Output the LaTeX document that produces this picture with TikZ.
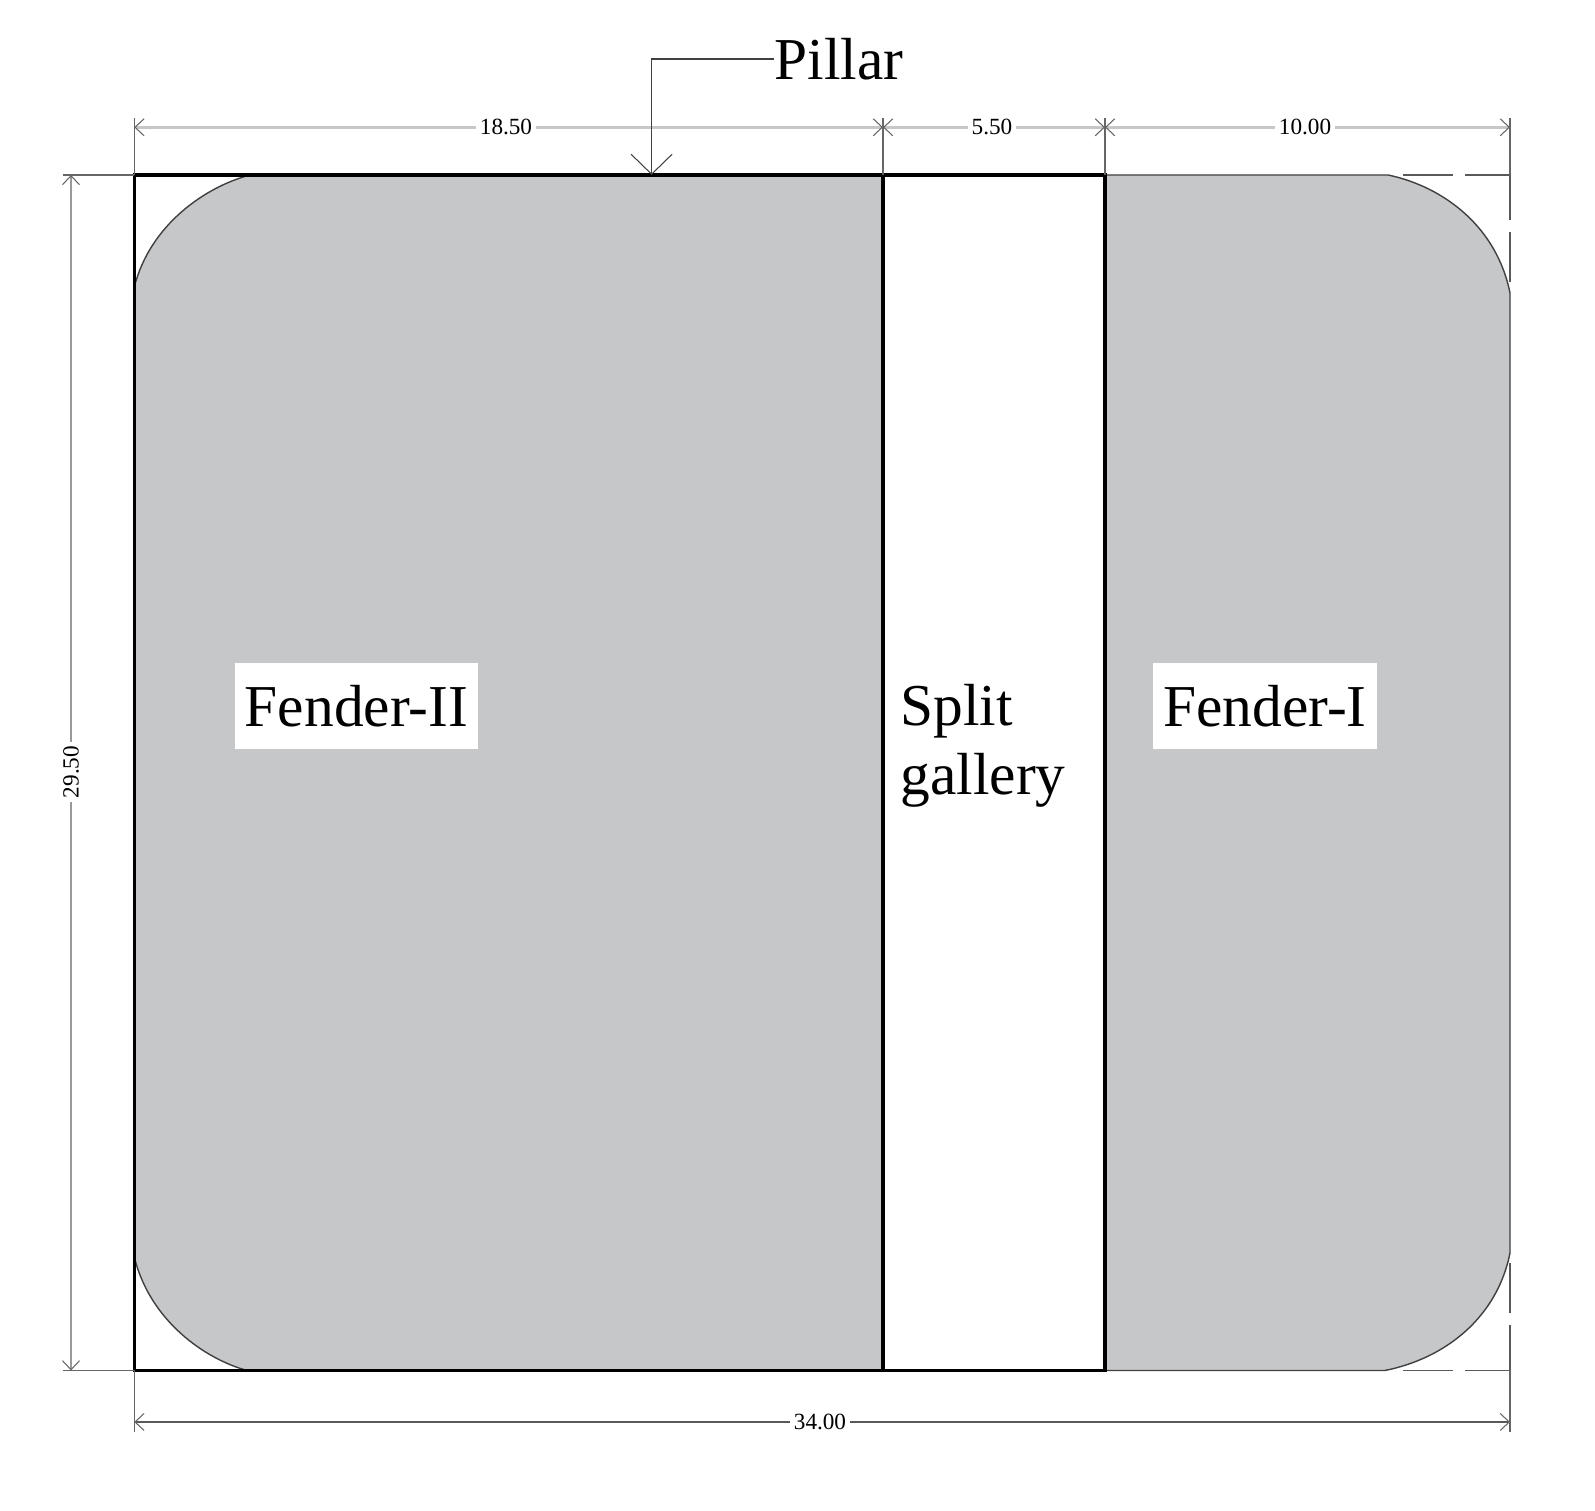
\documentclass[tikz,border=0pt]{standalone}
\usepackage{fontspec}
\setmainfont{Liberation Serif}
\usetikzlibrary{arrows.meta}
\definecolor{fendergray}{HTML}{C6C7C9}
\tikzset{
	fenderfill/.style={fill=fendergray,draw=none},
	fenderedge/.style={draw=black!75,line width=0.4pt},
	wall/.style={draw=black,line width=1pt},
	extline/.style={draw=black!60,line width=0.4pt},
	openend/.style={draw=black!65,line width=0.45pt,dash pattern=on 0.45cm off 0.12cm on 0.5cm off 3cm},
	dimtop/.style={draw=black!22,line width=0.8pt,{Straight Barb[length=0.09cm,width=0.17cm,black!60,line width=0.3pt]}-{Straight Barb[length=0.09cm,width=0.17cm,black!60,line width=0.3pt]}},
	dimside/.style={dimtop,draw=black!40},
	dimbottom/.style={dimtop,draw=black!65,line width=0.5pt},
	dimlabel/.style={fill=white,inner xsep=1pt,inner ysep=0.5pt,font=\fontsize{6.6}{8}\selectfont},
	biglabel/.style={font=\fontsize{16.9}{19.6}\selectfont},
	fenderlabel/.style={biglabel,fill=white,inner xsep=0.1cm,inner ysep=0pt,minimum height=0.86cm},
}
\begin{document}
\begin{tikzpicture}
	\useasboundingbox (0,0) rectangle (15.95,15.11);

	% Corners of the panels
	\coordinate (tl) at (1.343,13.36);
	\coordinate (bl) at (1.343,1.405);
	\coordinate (tm) at (8.83,13.36);
	\coordinate (bm) at (8.83,1.405);
	\coordinate (tn) at (11.05,13.36);
	\coordinate (bn) at (11.05,1.405);
	\coordinate (tr) at (15.10,13.36);
	\coordinate (br) at (15.10,1.405);

	% The fenders
	\path[fenderfill] (tm) -- (2.50,13.36) .. controls (2.05,13.24) and (1.50,12.86) .. (1.343,12.24)
		-- (1.343,2.54) .. controls (1.50,1.90) and (2.05,1.52) .. (2.47,1.405) -- (bm) -- cycle;
	\path[fenderfill] (tn) -- (13.88,13.36) .. controls (14.45,13.24) and (14.97,12.83) .. (15.10,12.18)
		-- (15.10,2.58) .. controls (14.97,1.93) and (14.45,1.525) .. (13.85,1.405) -- (bn) -- cycle;
	\draw[fenderedge] (2.50,13.36) .. controls (2.05,13.24) and (1.50,12.86) .. (1.343,12.24);
	\draw[fenderedge] (1.343,2.54) .. controls (1.50,1.90) and (2.05,1.52) .. (2.47,1.405);
	\draw[fenderedge] (tn) -- (13.88,13.36) .. controls (14.45,13.24) and (14.97,12.83) .. (15.10,12.18)
		-- (15.10,2.58) .. controls (14.97,1.93) and (14.45,1.525) .. (13.85,1.405) -- (bn);

	% The open corners
	\draw[openend] (tr) -- (13.95,13.36);
	\draw[openend] (tr) -- (15.10,12.18);
	\draw[openend] (br) -- (13.95,1.405);
	\draw[openend] (br) -- (15.10,2.58);

	% The walls
	\draw[wall] (tl) -- (tn) -- (bn) -- (bl) -- cycle;
	\draw[wall] (tm) -- (bm);

	% The extension lines
	\coordinate (tlx) at (1.343,13.93);
	\coordinate (tmx) at (8.83,13.93);
	\coordinate (tnx) at (11.05,13.93);
	\coordinate (trx) at (15.10,13.93);
	\coordinate (blx) at (1.343,0.79);
	\coordinate (brx) at (15.10,0.79);
	\coordinate (ltx) at (0.63,13.36);
	\coordinate (lbx) at (0.63,1.405);
	\draw[extline] (tl) -- (tlx);
	\draw[extline] (tm) -- (tmx);
	\draw[extline] (tn) -- (tnx);
	\draw[extline] (tr) -- (trx);
	\draw[extline] (bl) -- (blx);
	\draw[extline] (br) -- (brx);
	\draw[extline] (tl) -- (ltx);
	\draw[extline] (bl) -- (lbx);

	% The measures
	\coordinate (dl) at (1.343,13.837);
	\coordinate (dm) at (8.83,13.837);
	\coordinate (dn) at (11.05,13.837);
	\coordinate (dr) at (15.10,13.837);
	\coordinate (sl) at (1.343,0.89);
	\coordinate (sr) at (15.10,0.89);
	\coordinate (vt) at (0.71,13.36);
	\coordinate (vb) at (0.71,1.405);
	\draw[dimtop] (dl) -- (dm);
	\draw[dimtop] (dm) -- (dn);
	\draw[dimtop] (dn) -- (dr);
	\draw[dimbottom] (sl) -- (sr);
	\draw[dimside] (vt) -- (vb);
	\node[dimlabel] (dimleft) at (5.06,13.837) {18.50};
	\node[dimlabel] (dimsplit) at (9.92,13.837) {5.50};
	\node[dimlabel] (dimright) at (13.05,13.837) {10.00};
	\node[dimlabel] (dimwidth) at (8.20,0.89) {34.00};
	\node[dimlabel,rotate=90] (dimheight) at (0.71,7.39) {29.50};

	% The labels
	\node[fenderlabel] (fendertwo) at (3.565,8.05) {Fender-II};
	\node[fenderlabel] (fenderone) at (12.65,8.05) {Fender-I};
	\node[biglabel,align=left,anchor=north west,inner sep=0pt] (split) at (9.00,8.27) {Split\\gallery};

	% The pillar
	\node[biglabel,anchor=west,inner sep=0pt] (pillar) at (7.74,14.52) {Pillar};
	\coordinate (pillartip) at (6.516,13.36);
	\draw[draw=black!75,line width=0.4pt,-{Straight Barb[length=0.2cm,width=0.41cm,line width=0.3pt]}] (pillar.west) -| (pillartip);
\end{tikzpicture}
\end{document}
